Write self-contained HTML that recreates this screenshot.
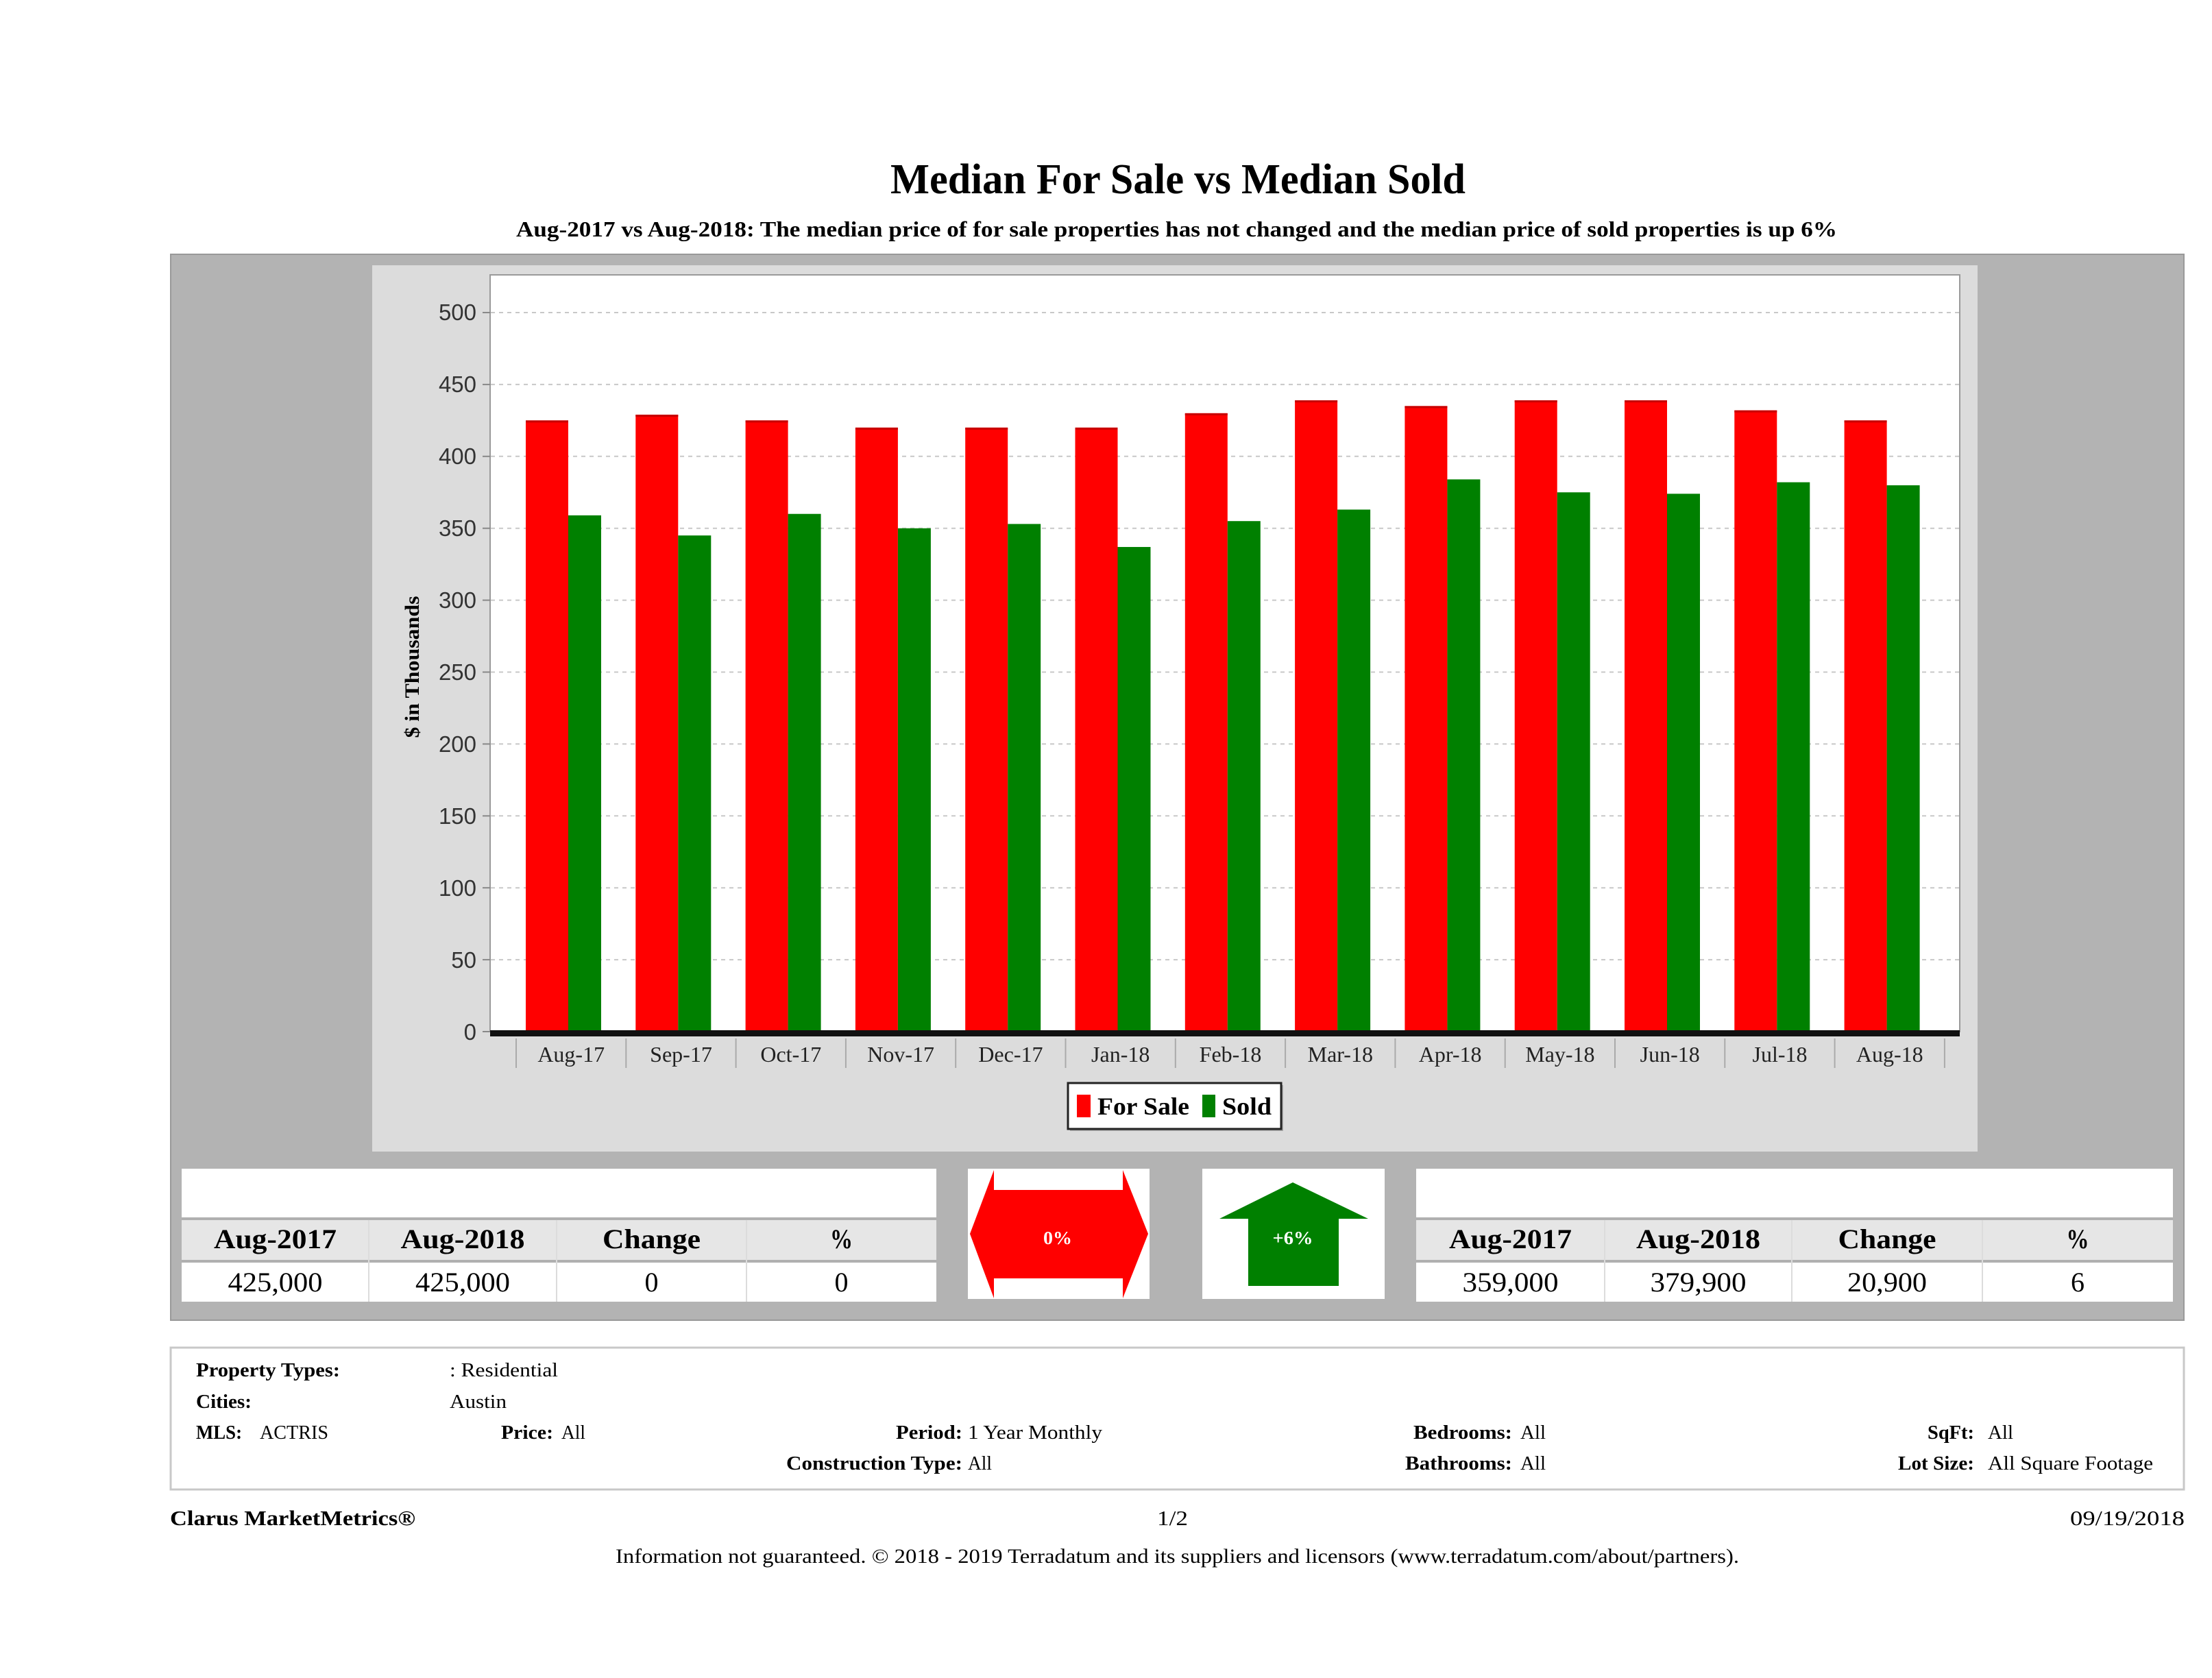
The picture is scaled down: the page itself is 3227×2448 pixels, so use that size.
<!DOCTYPE html>
<html>
<head>
<meta charset="utf-8">
<style>
html,body{margin:0;padding:0;background:#fff;}
svg{display:block;}
text{font-family:"Liberation Serif",serif;}
.sans{font-family:"Liberation Sans",sans-serif;}
</style>
</head>
<body>
<svg width="3227" height="2448" viewBox="0 0 3227 2448" xmlns="http://www.w3.org/2000/svg">
<rect x="0" y="0" width="3227" height="2448" fill="#fff"/>

<!-- Title -->
<text x="1718.5" y="282" font-size="62" font-weight="bold" text-anchor="middle" textLength="839" lengthAdjust="spacingAndGlyphs">Median For Sale vs Median Sold</text>
<text x="1716.5" y="345" font-size="32" font-weight="bold" text-anchor="middle" textLength="1927" lengthAdjust="spacingAndGlyphs">Aug-2017 vs Aug-2018: The median price of for sale properties has not changed and the median price of sold properties is up 6%</text>

<!-- Outer gray panel -->
<rect x="249" y="371" width="2937" height="1555" fill="#b3b3b3" stroke="#999" stroke-width="2"/>
<!-- Light chart panel -->
<rect x="543" y="387" width="2342" height="1293" fill="#dcdcdc"/>
<!-- Plot area -->
<rect x="715" y="401" width="2144" height="1104" fill="#fff" stroke="#9a9a9a" stroke-width="2"/>

<!-- gridlines -->
<g stroke="#c8c8c8" stroke-width="2" stroke-dasharray="6 6">
<line x1="716" y1="1400.1" x2="2858" y2="1400.1"/>
<line x1="716" y1="1295.2" x2="2858" y2="1295.2"/>
<line x1="716" y1="1190.3" x2="2858" y2="1190.3"/>
<line x1="716" y1="1085.4" x2="2858" y2="1085.4"/>
<line x1="716" y1="980.5" x2="2858" y2="980.5"/>
<line x1="716" y1="875.6" x2="2858" y2="875.6"/>
<line x1="716" y1="770.7" x2="2858" y2="770.7"/>
<line x1="716" y1="665.8" x2="2858" y2="665.8"/>
<line x1="716" y1="560.9" x2="2858" y2="560.9"/>
<line x1="716" y1="456" x2="2858" y2="456"/>
</g>

<!-- y ticks -->
<g stroke="#888" stroke-width="2">
<line x1="704" y1="1505" x2="715" y2="1505"/>
<line x1="704" y1="1400.1" x2="715" y2="1400.1"/>
<line x1="704" y1="1295.2" x2="715" y2="1295.2"/>
<line x1="704" y1="1190.3" x2="715" y2="1190.3"/>
<line x1="704" y1="1085.4" x2="715" y2="1085.4"/>
<line x1="704" y1="980.5" x2="715" y2="980.5"/>
<line x1="704" y1="875.6" x2="715" y2="875.6"/>
<line x1="704" y1="770.7" x2="715" y2="770.7"/>
<line x1="704" y1="665.8" x2="715" y2="665.8"/>
<line x1="704" y1="560.9" x2="715" y2="560.9"/>
<line x1="704" y1="456" x2="715" y2="456"/>
</g>

<!-- y labels -->
<g class="sans" font-size="33" fill="#333" text-anchor="end">
<text class="sans" x="695" y="1517">0</text>
<text class="sans" x="695" y="1412">50</text>
<text class="sans" x="695" y="1307">100</text>
<text class="sans" x="695" y="1202">150</text>
<text class="sans" x="695" y="1097">200</text>
<text class="sans" x="695" y="992">250</text>
<text class="sans" x="695" y="887">300</text>
<text class="sans" x="695" y="782">350</text>
<text class="sans" x="695" y="677">400</text>
<text class="sans" x="695" y="572">450</text>
<text class="sans" x="695" y="467">500</text>
</g>

<!-- y axis title -->
<text transform="translate(611,973) rotate(-90)" font-size="30" font-weight="bold" text-anchor="middle" textLength="207" lengthAdjust="spacingAndGlyphs">$ in Thousands</text>

<!-- Bars: For Sale (red) -->
<g fill="#ff0000">
<rect x="767" y="613.35" width="62" height="891.65"/>
<rect x="927.3" y="604.96" width="62" height="900.04"/>
<rect x="1087.6" y="613.35" width="62" height="891.65"/>
<rect x="1247.9" y="623.84" width="62" height="881.16"/>
<rect x="1408.2" y="623.84" width="62" height="881.16"/>
<rect x="1568.5" y="623.84" width="62" height="881.16"/>
<rect x="1728.8" y="602.86" width="62" height="902.14"/>
<rect x="1889.1" y="583.98" width="62" height="921.02"/>
<rect x="2049.4" y="592.37" width="62" height="912.63"/>
<rect x="2209.7" y="583.98" width="62" height="921.02"/>
<rect x="2370" y="583.98" width="62" height="921.02"/>
<rect x="2530.3" y="598.66" width="62" height="906.34"/>
<rect x="2690.6" y="613.35" width="62" height="891.65"/>
</g>
<!-- Bars: Sold (green) -->
<g fill="#008000">
<rect x="829" y="751.82" width="48" height="753.18"/>
<rect x="989.3" y="781.19" width="48" height="723.81"/>
<rect x="1149.6" y="749.72" width="48" height="755.28"/>
<rect x="1309.9" y="770.7" width="48" height="734.3"/>
<rect x="1470.2" y="764.41" width="48" height="740.59"/>
<rect x="1630.5" y="797.97" width="48" height="707.03"/>
<rect x="1790.8" y="760.21" width="48" height="744.79"/>
<rect x="1951.1" y="743.43" width="48" height="761.57"/>
<rect x="2111.4" y="699.37" width="48" height="805.63"/>
<rect x="2271.7" y="718.25" width="48" height="786.75"/>
<rect x="2432" y="720.35" width="48" height="784.65"/>
<rect x="2592.3" y="703.56" width="48" height="801.44"/>
<rect x="2752.6" y="707.97" width="48" height="797.03"/>
</g>
<!-- darker top edges -->
<g fill="#c80000">
<rect x="767" y="613.35" width="62" height="3"/>
<rect x="927.3" y="604.96" width="62" height="3"/>
<rect x="1087.6" y="613.35" width="62" height="3"/>
<rect x="1247.9" y="623.84" width="62" height="3"/>
<rect x="1408.2" y="623.84" width="62" height="3"/>
<rect x="1568.5" y="623.84" width="62" height="3"/>
<rect x="1728.8" y="602.86" width="62" height="3"/>
<rect x="1889.1" y="583.98" width="62" height="3"/>
<rect x="2049.4" y="592.37" width="62" height="3"/>
<rect x="2209.7" y="583.98" width="62" height="3"/>
<rect x="2370" y="583.98" width="62" height="3"/>
<rect x="2530.3" y="598.66" width="62" height="3"/>
<rect x="2690.6" y="613.35" width="62" height="3"/>
</g>

<!-- zero axis band -->
<rect x="715" y="1503" width="2144" height="9" fill="#111"/>

<!-- category dividers -->
<g stroke="#aaa" stroke-width="2">
<line x1="753" y1="1515" x2="753" y2="1558"/>
<line x1="913.3" y1="1515" x2="913.3" y2="1558"/>
<line x1="1073.6" y1="1515" x2="1073.6" y2="1558"/>
<line x1="1233.9" y1="1515" x2="1233.9" y2="1558"/>
<line x1="1394.2" y1="1515" x2="1394.2" y2="1558"/>
<line x1="1554.5" y1="1515" x2="1554.5" y2="1558"/>
<line x1="1714.8" y1="1515" x2="1714.8" y2="1558"/>
<line x1="1875.1" y1="1515" x2="1875.1" y2="1558"/>
<line x1="2035.4" y1="1515" x2="2035.4" y2="1558"/>
<line x1="2195.7" y1="1515" x2="2195.7" y2="1558"/>
<line x1="2356" y1="1515" x2="2356" y2="1558"/>
<line x1="2516.3" y1="1515" x2="2516.3" y2="1558"/>
<line x1="2676.6" y1="1515" x2="2676.6" y2="1558"/>
<line x1="2836.9" y1="1515" x2="2836.9" y2="1558"/>
</g>

<!-- x labels -->
<g font-size="32" fill="#222" text-anchor="middle">
<text x="833.2" y="1549">Aug-17</text>
<text x="993.5" y="1549">Sep-17</text>
<text x="1153.8" y="1549">Oct-17</text>
<text x="1314.1" y="1549">Nov-17</text>
<text x="1474.4" y="1549">Dec-17</text>
<text x="1634.7" y="1549">Jan-18</text>
<text x="1795" y="1549">Feb-18</text>
<text x="1955.3" y="1549">Mar-18</text>
<text x="2115.6" y="1549">Apr-18</text>
<text x="2275.9" y="1549">May-18</text>
<text x="2436.2" y="1549">Jun-18</text>
<text x="2596.5" y="1549">Jul-18</text>
<text x="2756.8" y="1549">Aug-18</text>
</g>

<!-- Legend -->
<rect x="1561" y="1583" width="311" height="67" fill="#aaa"/>
<rect x="1558" y="1580" width="311" height="67" fill="#fff" stroke="#222" stroke-width="3"/>
<rect x="1571" y="1597" width="20" height="33" fill="#ff0000"/>
<text x="1601" y="1626" font-size="36" font-weight="bold" textLength="134" lengthAdjust="spacingAndGlyphs">For Sale</text>
<rect x="1754" y="1597" width="19" height="33" fill="#008000"/>
<text x="1783" y="1626" font-size="36" font-weight="bold" textLength="72" lengthAdjust="spacingAndGlyphs">Sold</text>

<!-- Left table -->
<rect x="265" y="1705" width="1101" height="194" fill="#fff"/>
<rect x="265" y="1776" width="1101" height="4" fill="#b0b0b0"/>
<rect x="265" y="1780" width="1101" height="58" fill="#e6e6e6"/>
<rect x="265" y="1838" width="1101" height="4" fill="#b0b0b0"/>
<g stroke="#dcdcdc" stroke-width="2">
<line x1="538" y1="1780" x2="538" y2="1899"/>
<line x1="812" y1="1780" x2="812" y2="1899"/>
<line x1="1089" y1="1780" x2="1089" y2="1899"/>
</g>
<g font-size="40" font-weight="bold" text-anchor="middle">
<text x="401.5" y="1821" textLength="179" lengthAdjust="spacingAndGlyphs">Aug-2017</text>
<text x="675" y="1821" textLength="181" lengthAdjust="spacingAndGlyphs">Aug-2018</text>
<text x="950.5" y="1821" textLength="143" lengthAdjust="spacingAndGlyphs">Change</text>
<text x="1227.5" y="1821" textLength="33" lengthAdjust="spacingAndGlyphs">%</text>
</g>
<g font-size="40" text-anchor="middle">
<text x="401.5" y="1884" textLength="138" lengthAdjust="spacingAndGlyphs">425,000</text>
<text x="675" y="1884" textLength="138" lengthAdjust="spacingAndGlyphs">425,000</text>
<text x="950.5" y="1884">0</text>
<text x="1227.5" y="1884">0</text>
</g>

<!-- Arrow boxes -->
<rect x="1412" y="1705" width="265" height="190" fill="#fff"/>
<polygon points="1415,1800 1450,1707 1450,1736 1638,1736 1638,1707 1675,1800 1638,1894 1638,1865 1450,1865 1450,1894" fill="#ff0000"/>
<text x="1543" y="1815" font-size="27" font-weight="bold" fill="#fff" text-anchor="middle" textLength="42" lengthAdjust="spacingAndGlyphs">0%</text>

<rect x="1754" y="1705" width="266" height="190" fill="#fff"/>
<polygon points="1886,1725 1996,1778 1953,1778 1953,1876 1821,1876 1821,1778 1779,1778" fill="#008000"/>
<text x="1886" y="1815" font-size="27" font-weight="bold" fill="#fff" text-anchor="middle" textLength="59" lengthAdjust="spacingAndGlyphs">+6%</text>

<!-- Right table -->
<rect x="2066" y="1705" width="1104" height="194" fill="#fff"/>
<rect x="2066" y="1776" width="1104" height="4" fill="#b0b0b0"/>
<rect x="2066" y="1780" width="1104" height="58" fill="#e6e6e6"/>
<rect x="2066" y="1838" width="1104" height="4" fill="#b0b0b0"/>
<g stroke="#dcdcdc" stroke-width="2">
<line x1="2341" y1="1780" x2="2341" y2="1899"/>
<line x1="2614" y1="1780" x2="2614" y2="1899"/>
<line x1="2892" y1="1780" x2="2892" y2="1899"/>
</g>
<g font-size="40" font-weight="bold" text-anchor="middle">
<text x="2203.5" y="1821" textLength="179" lengthAdjust="spacingAndGlyphs">Aug-2017</text>
<text x="2477.5" y="1821" textLength="181" lengthAdjust="spacingAndGlyphs">Aug-2018</text>
<text x="2753" y="1821" textLength="143" lengthAdjust="spacingAndGlyphs">Change</text>
<text x="3031" y="1821" textLength="33" lengthAdjust="spacingAndGlyphs">%</text>
</g>
<g font-size="40" text-anchor="middle">
<text x="2203.5" y="1884" textLength="140" lengthAdjust="spacingAndGlyphs">359,000</text>
<text x="2477.5" y="1884" textLength="140" lengthAdjust="spacingAndGlyphs">379,900</text>
<text x="2753" y="1884" textLength="116" lengthAdjust="spacingAndGlyphs">20,900</text>
<text x="3031" y="1884">6</text>
</g>

<!-- Info box -->
<rect x="249" y="1966" width="2937" height="207" fill="#fff" stroke="#c8c8c8" stroke-width="3"/>
<g font-size="29">
<text x="286" y="2008" font-weight="bold" textLength="210" lengthAdjust="spacingAndGlyphs">Property Types:</text>
<text x="656" y="2008" textLength="158" lengthAdjust="spacingAndGlyphs">: Residential</text>
<text x="286" y="2054" font-weight="bold" textLength="81" lengthAdjust="spacingAndGlyphs">Cities:</text>
<text x="656" y="2054" textLength="83" lengthAdjust="spacingAndGlyphs">Austin</text>
<text x="286" y="2099" font-weight="bold" textLength="67" lengthAdjust="spacingAndGlyphs">MLS:</text>
<text x="379" y="2099" textLength="100" lengthAdjust="spacingAndGlyphs">ACTRIS</text>
<text x="731" y="2099" font-weight="bold" textLength="76" lengthAdjust="spacingAndGlyphs">Price:</text>
<text x="819" y="2099" textLength="35" lengthAdjust="spacingAndGlyphs">All</text>
<text x="1307" y="2099" font-weight="bold" textLength="97" lengthAdjust="spacingAndGlyphs">Period:</text>
<text x="1412" y="2099" textLength="196" lengthAdjust="spacingAndGlyphs">1 Year Monthly</text>
<text x="1147" y="2144" font-weight="bold" textLength="257" lengthAdjust="spacingAndGlyphs">Construction Type:</text>
<text x="1412" y="2144" textLength="35" lengthAdjust="spacingAndGlyphs">All</text>
<text x="2062" y="2099" font-weight="bold" textLength="144" lengthAdjust="spacingAndGlyphs">Bedrooms:</text>
<text x="2218" y="2099" textLength="37" lengthAdjust="spacingAndGlyphs">All</text>
<text x="2050" y="2144" font-weight="bold" textLength="156" lengthAdjust="spacingAndGlyphs">Bathrooms:</text>
<text x="2218" y="2144" textLength="37" lengthAdjust="spacingAndGlyphs">All</text>
<text x="2812" y="2099" font-weight="bold" textLength="68" lengthAdjust="spacingAndGlyphs">SqFt:</text>
<text x="2900" y="2099" textLength="37" lengthAdjust="spacingAndGlyphs">All</text>
<text x="2769" y="2144" font-weight="bold" textLength="111" lengthAdjust="spacingAndGlyphs">Lot Size:</text>
<text x="2900" y="2144" textLength="241" lengthAdjust="spacingAndGlyphs">All Square Footage</text>
</g>

<!-- Footer -->
<text x="248" y="2225" font-size="31" font-weight="bold" textLength="358" lengthAdjust="spacingAndGlyphs">Clarus MarketMetrics®</text>
<text x="1688" y="2225" font-size="31" textLength="45" lengthAdjust="spacingAndGlyphs">1/2</text>
<text x="3020" y="2225" font-size="31" textLength="167" lengthAdjust="spacingAndGlyphs">09/19/2018</text>
<text x="898" y="2280" font-size="30" textLength="1639" lengthAdjust="spacingAndGlyphs">Information not guaranteed. © 2018 - 2019 Terradatum and its suppliers and licensors (www.terradatum.com/about/partners).</text>
</svg>
</body>
</html>
